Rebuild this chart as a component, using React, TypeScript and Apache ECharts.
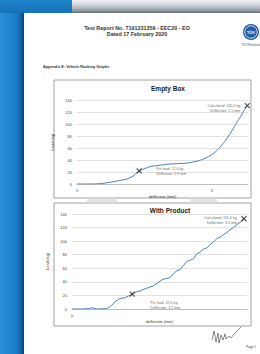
import React, { useEffect, useRef } from "react";
import * as echarts from "echarts";

// Empty Box test (deflection mm, load kg)
const emptyDeflection = [0, 0.2, 0.34, 0.45, 0.54, 0.64, 0.74, 0.83, 0.92, 1.01, 1.08, 1.18, 1.28, 1.38, 1.47, 1.57, 1.65, 1.72, 1.8, 1.87, 1.95, 2.02, 2.07, 2.12, 2.2, 2.27, 2.32, 2.37, 2.42, 2.46, 2.52];
const emptyLoad = [0, 0, 0.5, 2.2, 3.9, 6.0, 8.3, 13.3, 21.7, 26, 28.9, 30.6, 32.2, 33.3, 33.8, 34.4, 35.2, 36.7, 38.8, 41.7, 46, 51, 56, 62, 73, 84.4, 94, 103.9, 112, 120.6, 130.6];
const emptyMarkerDeflection = [0.92, 2.52];
const emptyMarkerLoad = [21.7, 130.6];
const emptyMarkerLabels = ["Pre load: 22.0 kg\nDeflection: 0.9 mm", "Calculated: 130.0 kg\nDeflection: 2.5 mm"];

// With Product test
const productDeflection = [0, 0.2, 0.34, 0.38, 0.47, 0.67, 0.73, 0.78, 0.83, 0.93, 1.03, 1.1, 1.17, 1.25, 1.32, 1.38, 1.45, 1.51, 1.58, 1.64, 1.71, 1.77, 1.84, 1.9, 1.97, 2.03, 2.1, 2.16, 2.23, 2.29, 2.36, 2.42, 2.49, 2.55, 2.62, 2.68, 2.75, 2.81, 2.88, 2.94, 3.01, 3.07, 3.14, 3.2, 3.27, 3.34];
const productLoad = [0, 0, 0.5, 2, 0, 0.5, 3, 6, 10.4, 15.4, 16.5, 19.3, 21.8, 25.2, 26.5, 28.8, 30.5, 32.2, 34, 37.1, 41, 44, 45, 46, 52, 56, 58, 63.8, 70, 71.8, 74, 80.7, 84, 88.1, 90, 94.5, 99, 103.4, 106, 109.3, 113, 116.8, 120, 124.2, 128, 133];
const productMarkerDeflection = [1.17, 3.34];
const productMarkerLoad = [21.8, 133];
const productMarkerLabels = ["Pre load: 22.0 kg\nDeflection: 1.2 mm", "Calculated: 131.6 kg\nDeflection: 3.3 mm"];

const yTicks = { min: 0, max: 140, interval: 20 };
const chartTitles = ["Empty Box", "With Product"];
const xName = "deflection (mm)";
const yName = "Load (kg)";

const FONT = "Liberation Sans";
const LINE = "#4a7ebb";

function xAxisCfg(gridIndex: number, max: number, interval: number) {
  return {
    type: "value",
    gridIndex,
    min: 0,
    max,
    interval,
    axisLine: { show: true, lineStyle: { color: "#b5b5b5", width: 0.8 } },
    axisTick: { show: false },
    splitLine: { show: false },
    axisLabel: { fontSize: 4, color: "#444", margin: 4, fontFamily: FONT, showMaxLabel: false },
    name: xName,
    nameLocation: "middle",
    nameGap: 10,
    nameTextStyle: { fontSize: 4, color: "#333", fontFamily: FONT },
  };
}

function yAxisCfg(gridIndex: number, nameGap: number) {
  return {
    type: "value",
    gridIndex,
    ...yTicks,
    axisLine: { show: false },
    axisTick: { show: false },
    splitLine: { show: true, lineStyle: { color: "#d4d4d4", width: 0.7 } },
    axisLabel: { fontSize: 4, color: "#444", margin: 5, fontFamily: FONT },
    name: yName,
    nameLocation: "middle",
    nameRotate: 90,
    nameGap,
    nameTextStyle: { fontSize: 4, color: "#333", fontFamily: FONT },
  };
}

function zip(a: number[], b: number[]) {
  return a.map((v, i) => [v, b[i]]);
}

const X_SYMBOL = "path://M0,0L10,10M10,0L0,10";

function markerSeries(idx: number, xs: number[], ys: number[], labels: string[], pos: any[]) {
  return {
    type: "scatter",
    xAxisIndex: idx,
    yAxisIndex: idx,
    symbol: X_SYMBOL,
    symbolSize: 5,
    itemStyle: { color: "none", borderColor: "#222", borderWidth: 1.1 },
    z: 5,
    data: xs.map((x, i) => ({
      value: [x, ys[i]],
      label: {
        show: true,
        formatter: labels[i],
        fontSize: 3.6,
        lineHeight: 5,
        color: "#333",
        fontFamily: FONT,
        ...pos[i],
      },
    })),
  };
}

export default function App() {
  const ref = useRef<HTMLDivElement>(null);
  useEffect(() => {
    if (!ref.current) return;
    const chart = echarts.init(ref.current, undefined, { renderer: "svg" });
    const option: any = {
      animation: false,
      backgroundColor: "#ffffff",
      grid: [
        { left: 77, top: 100, width: 171, height: 84 },
        { left: 72, top: 214, width: 175, height: 95 },
      ],
      xAxis: [xAxisCfg(0, 2.53, 2), xAxisCfg(1, 3.4, 5)],
      yAxis: [yAxisCfg(0, 14), yAxisCfg(1, 12)],
      series: [
        {
          type: "line",
          xAxisIndex: 0,
          yAxisIndex: 0,
          data: zip(emptyDeflection, emptyLoad),
          showSymbol: false,
          smooth: 0.3,
          lineStyle: { color: LINE, width: 1 },
        },
        {
          type: "line",
          xAxisIndex: 1,
          yAxisIndex: 1,
          data: zip(productDeflection, productLoad),
          showSymbol: false,
          lineStyle: { color: LINE, width: 1 },
        },
        markerSeries(0, emptyMarkerDeflection, emptyMarkerLoad, emptyMarkerLabels, [
          { position: "right", distance: 12, offset: [0, 1], align: "left" },
          { position: "left", distance: 2, offset: [0, 3], align: "right" },
        ]),
        markerSeries(1, productMarkerDeflection, productMarkerLoad, productMarkerLabels, [
          { position: "bottom", distance: 1, offset: [18, 0], align: "left" },
          { position: "left", distance: 2, offset: [0, 2], align: "right" },
        ]),
      ],
      graphic: [
        // left blue band
        {
          type: "rect",
          shape: { x: 0, y: 0, width: 24, height: 354 },
          style: {
            fill: new echarts.graphic.LinearGradient(0, 0, 1, 0, [
              { offset: 0, color: "#2b92d8" },
              { offset: 0.7, color: "#1a7bc4" },
              { offset: 1, color: "#0c4f8e" },
            ]),
          },
        },
        // top-left blue
        {
          type: "rect",
          shape: { x: 0, y: 0, width: 72, height: 13 },
          style: {
            fill: new echarts.graphic.LinearGradient(0, 0, 0, 1, [
              { offset: 0, color: "#1f86cc" },
              { offset: 1, color: "#1670b6" },
            ]),
          },
        },
        // top gray bar
        {
          type: "rect",
          shape: { x: 72, y: 0, width: 188, height: 13 },
          style: {
            fill: new echarts.graphic.LinearGradient(0, 0, 0, 1, [
              { offset: 0, color: "#f0f2f4" },
              { offset: 0.45, color: "#c9ced4" },
              { offset: 0.85, color: "#8d959f" },
              { offset: 1, color: "#5d6673" },
            ]),
          },
        },
        // page shadow edge
        {
          type: "rect",
          shape: { x: 22, y: 13, width: 2, height: 341 },
          style: { fill: "#0a4a86" },
        },
        // header
        {
          type: "text",
          x: 137,
          y: 28,
          style: {
            text: "Test Report No. 7191231359 - EEC20 - EO",
            font: `bold 5.4px "${FONT}"`,
            fill: "#333",
            textAlign: "center",
            textVerticalAlign: "middle",
          },
        },
        {
          type: "text",
          x: 137,
          y: 33.5,
          style: {
            text: "Dated 17 February 2020",
            font: `bold 5.4px "${FONT}"`,
            fill: "#333",
            textAlign: "center",
            textVerticalAlign: "middle",
          },
        },
        // logo
        { type: "circle", shape: { cx: 251, cy: 32, r: 8 }, style: { fill: "#1f5ea6" } },
        { type: "circle", shape: { cx: 251, cy: 32, r: 6.2 }, style: { fill: "none", stroke: "#ffffff", lineWidth: 0.8 } },
        {
          type: "text",
          x: 251,
          y: 32,
          style: { text: "TÜV", font: `bold 4px "${FONT}"`, fill: "#fff", textAlign: "center", textVerticalAlign: "middle" },
        },
        {
          type: "text",
          x: 241,
          y: 45,
          style: { text: "TÜV Rheinland", font: `2.8px "${FONT}"`, fill: "#555", textVerticalAlign: "middle" },
        },
        // appendix title
        {
          type: "text",
          x: 43,
          y: 67,
          style: {
            text: "Appendix E: Vehicle Racking Graphs",
            font: `bold 3.8px "${FONT}"`,
            fill: "#333",
            textVerticalAlign: "middle",
          },
        },
        // chart frames
        { type: "rect", shape: { x: 54, y: 80, width: 197, height: 118 }, style: { fill: "none", stroke: "#8a8a8a", lineWidth: 0.8 } },
        { type: "rect", shape: { x: 54, y: 203, width: 197, height: 123 }, style: { fill: "none", stroke: "#8a8a8a", lineWidth: 0.8 } },
        // slivers between charts
        { type: "rect", shape: { x: 87, y: 198.5, width: 30, height: 4 }, style: { fill: "#e3e3e3" } },
        { type: "rect", shape: { x: 190, y: 198.5, width: 27, height: 4 }, style: { fill: "#e3e3e3" } },
        // chart titles
        {
          type: "text",
          x: 168,
          y: 88,
          style: { text: chartTitles[0], font: `bold 6.5px "${FONT}"`, fill: "#1a1a1a", textAlign: "center", textVerticalAlign: "middle" },
        },
        {
          type: "text",
          x: 170,
          y: 210.5,
          style: { text: chartTitles[1], font: `bold 6.5px "${FONT}"`, fill: "#1a1a1a", textAlign: "center", textVerticalAlign: "middle" },
        },
        // signature
        {
          type: "polyline",
          shape: {
            points: [
              [212, 340], [214, 331], [216, 342], [218, 333], [219, 343], [221, 335], [223, 340],
              [225, 334], [226, 339], [229, 336], [231, 338], [235, 333], [239, 329], [241, 327],
            ],
          },
          style: { stroke: "#3a3a3a", lineWidth: 0.6, fill: "none" },
        },
        {
          type: "text",
          x: 246,
          y: 347,
          style: { text: "Page 1", font: `3.2px "${FONT}"`, fill: "#444", textVerticalAlign: "middle" },
        },
      ],
    };
    chart.setOption(option);
    return () => chart.dispose();
  }, []);
  return <div ref={ref} style={{ position: "absolute", left: 0, top: 0, width: 260, height: 354 }} />;
}
